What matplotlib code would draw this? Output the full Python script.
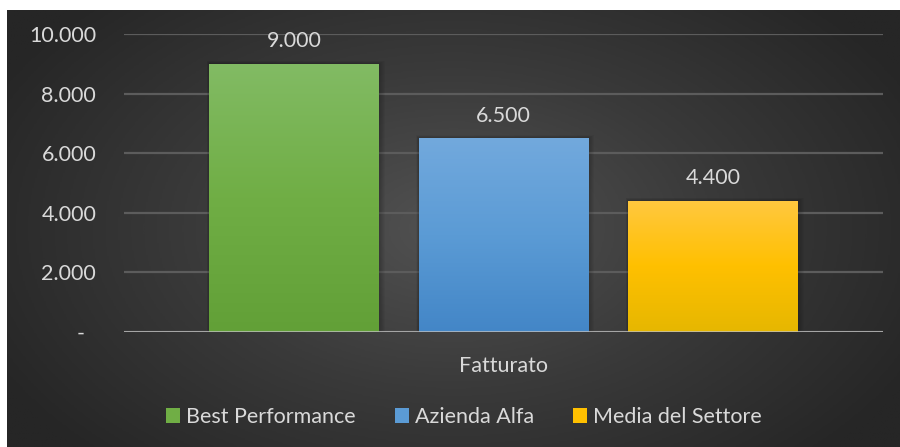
import numpy as np
import matplotlib.pyplot as plt
from matplotlib.patches import Rectangle
import matplotlib.colors as mcolors

# dati
serie = ["Best Performance", "Azienda Alfa", "Media del Settore"]
valori = [9000, 6500, 4400]
categoria = "Fatturato"
yticks = [0, 2000, 4000, 6000, 8000, 10000]
ytick_labels = ["-  ", "2.000", "4.000", "6.000", "8.000", "10.000"]
etichette = ["9.000", "6.500", "4.400"]

# colori (alto, centro, basso) per il gradiente delle barre
grad = [
    ("#82bb64", "#70ae45", "#62a037"),
    ("#72a9dd", "#5b9bd5", "#4386c7"),
    ("#ffc840", "#ffc000", "#e6b700"),
]
testo = "#d9d9d9"

plt.rcParams["font.family"] = ["Lato", "DejaVu Sans"]

fig = plt.figure(figsize=(9, 4.47), dpi=100)
fig.patch.set_facecolor("white")

# sfondo con gradiente radiale
bg = fig.add_axes([7 / 900, 0, 893 / 900, 437 / 447], zorder=-10)
yy, xx = np.mgrid[-1:1:300j, -1:1:600j]
r = np.sqrt((xx * 0.95) ** 2 + (yy * 0.75) ** 2)
r = np.clip(r / 1.1, 0, 1)
cmap_bg = mcolors.LinearSegmentedColormap.from_list("bg", ["#525252", "#3a3a3a", "#262626"])
bg.imshow(r, cmap=cmap_bg, aspect="auto", extent=[0, 1, 0, 1], vmin=0, vmax=1)
bg.set_axis_off()

ax = fig.add_axes([124 / 900, 1 - 332 / 447, (883 - 124) / 900, (332 - 34) / 447])
ax.set_facecolor("none")

x = np.arange(len(valori))
largh = 0.81
ax.set_xlim(-0.81, 2.81)
ax.set_ylim(0, 10000)

px = 1 / 210  # circa un pixel in unita' x
py = 10000 / 298  # circa un pixel in unita' y
for i, (v, c) in enumerate(zip(valori, grad)):
    # ombra morbida
    for k in range(1, 7):
        ax.add_patch(Rectangle((x[i] - largh / 2 - k * px * 0.4, 0),
                               largh + k * px * 1.4, v + k * py * 0.5,
                               facecolor="black", alpha=0.035, edgecolor="none", zorder=1))
    b = ax.bar(x[i], v, width=largh, color=c[1], zorder=2, edgecolor="none")[0]
    cm = mcolors.LinearSegmentedColormap.from_list("g%d" % i, [c[2], c[1], c[0]])
    g = np.linspace(0, 1, 256).reshape(-1, 1)
    im = ax.imshow(g, cmap=cm, aspect="auto", origin="lower",
                   extent=[x[i] - largh / 2, x[i] + largh / 2, 0, v], zorder=3)
    im.set_clip_path(b)
    ax.annotate(etichette[i], (x[i], v), xytext=(0, 12), textcoords="offset points",
                ha="center", va="baseline", color=testo, fontsize=15.5)

ax.set_xlim(-0.81, 2.81)
ax.set_ylim(0, 10000)

ax.set_yticks(yticks)
ax.set_yticklabels(ytick_labels)
ax.set_xticks([1])
ax.set_xticklabels([categoria])
ax.tick_params(axis="y", length=0, pad=20, labelcolor=testo, labelsize=15.5)
ax.tick_params(axis="x", length=0, pad=17, labelcolor=testo, labelsize=15.5)
ax.yaxis.grid(True, color="#5c5c5c", linewidth=1.6, zorder=0)
ax.set_axisbelow(True)
for s in ax.spines.values():
    s.set_visible(False)
ax.axhline(0, color="#bfbfbf", alpha=0.75, linewidth=2.2, zorder=5)

handles = [Rectangle((0, 0), 1, 1, facecolor=c[1], edgecolor="none") for c in grad]
fig.legend(handles, serie, loc="center", bbox_to_anchor=(464 / 900, 1 - 417 / 447), ncol=3,
           frameon=False, fontsize=15.5, labelcolor=testo, handlelength=0.65, handleheight=0.65,
           handletextpad=0.3, columnspacing=1.8)

fig.savefig("out.png", dpi=100)
